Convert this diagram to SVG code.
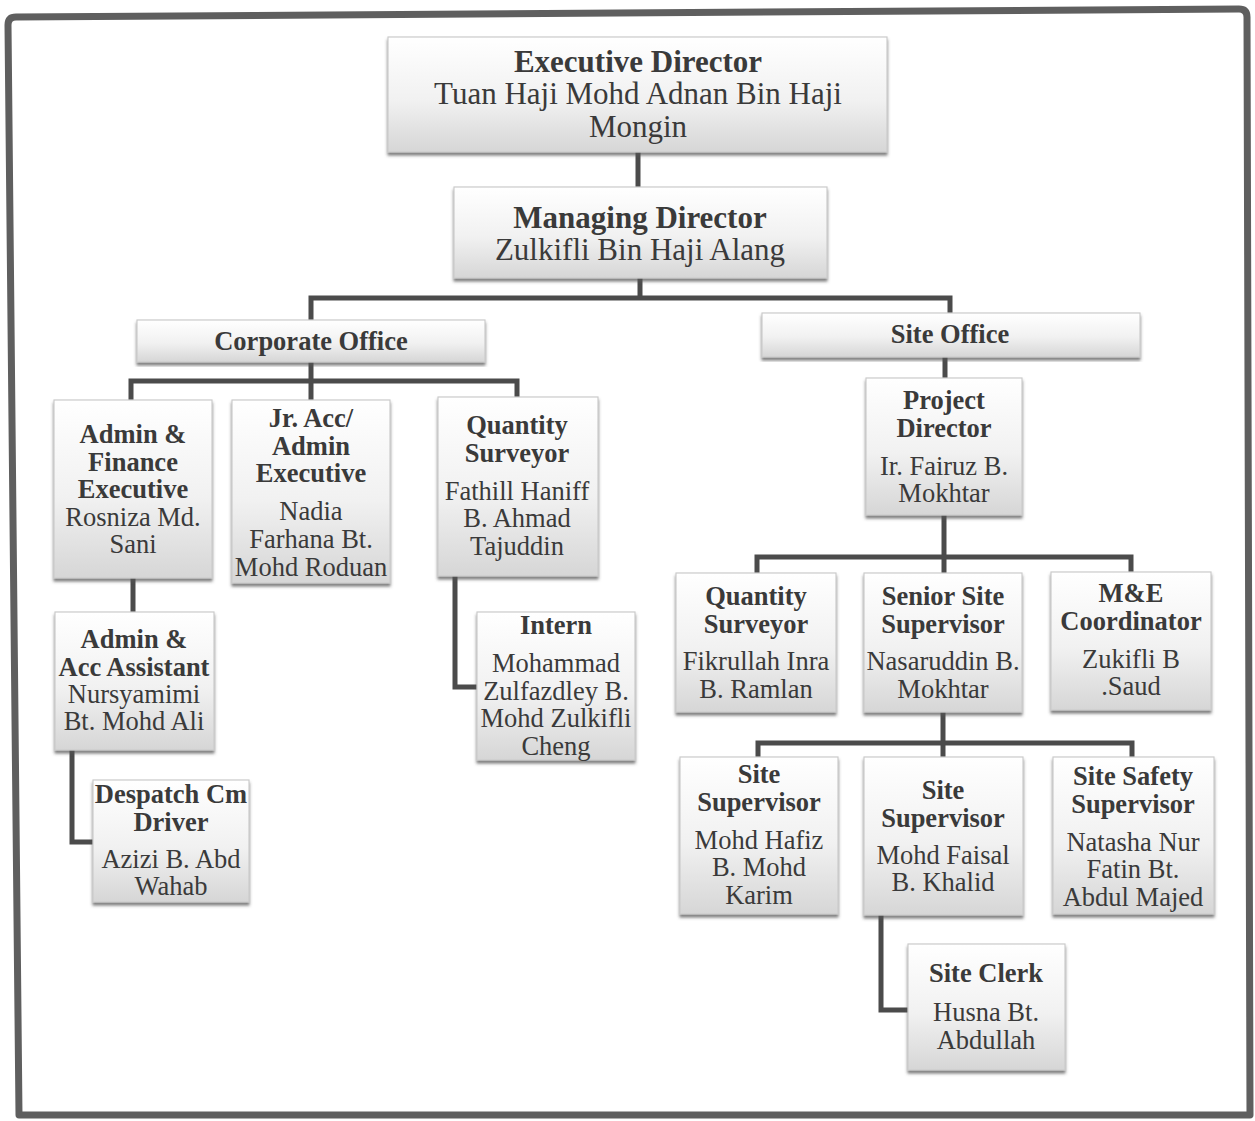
<svg xmlns="http://www.w3.org/2000/svg" width="1255" height="1121" viewBox="0 0 1255 1121">
<defs>
<linearGradient id="g" x1="0" y1="0" x2="0" y2="1">
<stop offset="0" stop-color="#ffffff"/>
<stop offset="0.55" stop-color="#f1f1f1"/>
<stop offset="1" stop-color="#d6d6d6"/>
</linearGradient>
<filter id="sh" x="-5%" y="-5%" width="110%" height="115%">
<feDropShadow dx="0" dy="3" stdDeviation="1.5" flood-color="#555" flood-opacity="0.75"/>
</filter>
</defs>
<style>
.box{fill:url(#g);stroke:#cbcbcb;stroke-width:1.2;filter:url(#sh)}
.c{fill:none;stroke:#4b4b4b;stroke-width:5;stroke-linejoin:miter;stroke-linecap:butt}
text{font-family:"Liberation Serif","Times New Roman",serif;fill:#3a3a3a;text-anchor:middle}
.t1{font-size:31px}
.t2{font-size:26.5px}
.b{font-weight:bold}
.frame{fill:none;stroke:#5f5f5f;stroke-width:7;stroke-linejoin:round}
</style>
<rect width="1255" height="1121" fill="#ffffff"/>
<path class="frame" d="M19,1115 L8,25 Q8,17 16,17 L1239,9 Q1247,9 1247,17 L1250,1115 Z"/>

<g id="connectors">
<path class="c" d="M638,152 V187"/>
<path class="c" d="M640,278 V298"/>
<path class="c" d="M311,320 V298 H950 V313"/>
<path class="c" d="M311,362 V400"/>
<path class="c" d="M131,400 V381 H517 V397"/>
<path class="c" d="M133,578 V612"/>
<path class="c" d="M72,750 V842 H93"/>
<path class="c" d="M455,576 V687 H477"/>
<path class="c" d="M945,357 V378"/>
<path class="c" d="M944,515 V573"/>
<path class="c" d="M757,573 V557 H1131 V572"/>
<path class="c" d="M943,712 V757"/>
<path class="c" d="M758,757 V743 H1132 V757"/>
<path class="c" d="M881,915 V1010 H908"/>
</g>

<g id="executive-director">
<rect class="box" x="388" y="37" width="499" height="115"/>
<text class="t1"><tspan class="b" x="638" y="72">Executive Director</tspan><tspan x="638" y="104">Tuan Haji Mohd Adnan Bin Haji</tspan><tspan x="638" y="137">Mongin</tspan></text>
</g>
<g id="managing-director">
<rect class="box" x="454" y="187" width="373" height="91"/>
<text class="t1"><tspan class="b" x="640" y="228">Managing Director</tspan><tspan x="640" y="260">Zulkifli Bin Haji Alang</tspan></text>
</g>
<g id="corporate-office">
<rect class="box" x="137" y="320" width="348" height="42"/>
<text class="t2 b" x="311" y="350">Corporate Office</text>
</g>
<g id="site-office">
<rect class="box" x="762" y="313" width="378" height="44"/>
<text class="t2 b" x="950" y="343">Site Office</text>
</g>
<g id="admin-finance-executive">
<rect class="box" x="54" y="400" width="158" height="178"/>
<text class="t2"><tspan class="b" x="133" y="443">Admin &amp;</tspan><tspan class="b" x="133" y="471">Finance</tspan><tspan class="b" x="133" y="498">Executive</tspan><tspan x="133" y="526">Rosniza Md.</tspan><tspan x="133" y="553">Sani</tspan></text>
</g>
<g id="jr-acc-admin-executive">
<rect class="box" x="232" y="400" width="158" height="183"/>
<text class="t2"><tspan class="b" x="311" y="427">Jr. Acc/</tspan><tspan class="b" x="311" y="455">Admin</tspan><tspan class="b" x="311" y="482">Executive</tspan><tspan x="311" y="520">Nadia</tspan><tspan x="311" y="548">Farhana Bt.</tspan><tspan x="311" y="576">Mohd Roduan</tspan></text>
</g>
<g id="quantity-surveyor-corporate">
<rect class="box" x="438" y="397" width="160" height="179"/>
<text class="t2"><tspan class="b" x="517" y="434">Quantity</tspan><tspan class="b" x="517" y="462">Surveyor</tspan><tspan x="517" y="500">Fathill Haniff</tspan><tspan x="517" y="527">B. Ahmad</tspan><tspan x="517" y="555">Tajuddin</tspan></text>
</g>
<g id="admin-acc-assistant">
<rect class="box" x="55" y="612" width="159" height="138"/>
<text class="t2"><tspan class="b" x="134" y="648">Admin &amp;</tspan><tspan class="b" x="134" y="676">Acc Assistant</tspan><tspan x="134" y="703">Nursyamimi</tspan><tspan x="134" y="730">Bt. Mohd Ali</tspan></text>
</g>
<g id="despatch-driver">
<rect class="box" x="93" y="780" width="156" height="122"/>
<text class="t2"><tspan class="b" x="171" y="803">Despatch Cm</tspan><tspan class="b" x="171" y="831">Driver</tspan><tspan x="171" y="868">Azizi B. Abd</tspan><tspan x="171" y="895">Wahab</tspan></text>
</g>
<g id="intern">
<rect class="box" x="477" y="612" width="158" height="148"/>
<text class="t2"><tspan class="b" x="556" y="634">Intern</tspan><tspan x="556" y="672">Mohammad</tspan><tspan x="556" y="700">Zulfazdley B.</tspan><tspan x="556" y="727">Mohd Zulkifli</tspan><tspan x="556" y="755">Cheng</tspan></text>
</g>
<g id="project-director">
<rect class="box" x="866" y="378" width="156" height="137"/>
<text class="t2"><tspan class="b" x="944" y="409">Project</tspan><tspan class="b" x="944" y="437">Director</tspan><tspan x="944" y="475">Ir. Fairuz B.</tspan><tspan x="944" y="502">Mokhtar</tspan></text>
</g>
<g id="quantity-surveyor-site">
<rect class="box" x="676" y="573" width="160" height="139"/>
<text class="t2"><tspan class="b" x="756" y="605">Quantity</tspan><tspan class="b" x="756" y="633">Surveyor</tspan><tspan x="756" y="670">Fikrullah Inra</tspan><tspan x="756" y="698">B. Ramlan</tspan></text>
</g>
<g id="senior-site-supervisor">
<rect class="box" x="864" y="573" width="158" height="139"/>
<text class="t2"><tspan class="b" x="943" y="605">Senior Site</tspan><tspan class="b" x="943" y="633">Supervisor</tspan><tspan x="943" y="670">Nasaruddin B.</tspan><tspan x="943" y="698">Mokhtar</tspan></text>
</g>
<g id="me-coordinator">
<rect class="box" x="1051" y="572" width="160" height="138"/>
<text class="t2"><tspan class="b" x="1131" y="602">M&amp;E</tspan><tspan class="b" x="1131" y="630">Coordinator</tspan><tspan x="1131" y="668">Zukifli B</tspan><tspan x="1131" y="695">.Saud</tspan></text>
</g>
<g id="site-supervisor-1">
<rect class="box" x="680" y="757" width="158" height="157"/>
<text class="t2"><tspan class="b" x="759" y="783">Site</tspan><tspan class="b" x="759" y="811">Supervisor</tspan><tspan x="759" y="849">Mohd Hafiz</tspan><tspan x="759" y="876">B. Mohd</tspan><tspan x="759" y="904">Karim</tspan></text>
</g>
<g id="site-supervisor-2">
<rect class="box" x="864" y="757" width="159" height="158"/>
<text class="t2"><tspan class="b" x="943" y="799">Site</tspan><tspan class="b" x="943" y="827">Supervisor</tspan><tspan x="943" y="864">Mohd Faisal</tspan><tspan x="943" y="891">B. Khalid</tspan></text>
</g>
<g id="site-safety-supervisor">
<rect class="box" x="1053" y="757" width="161" height="157"/>
<text class="t2"><tspan class="b" x="1133" y="785">Site Safety</tspan><tspan class="b" x="1133" y="813">Supervisor</tspan><tspan x="1133" y="851">Natasha Nur</tspan><tspan x="1133" y="878">Fatin Bt.</tspan><tspan x="1133" y="906">Abdul Majed</tspan></text>
</g>
<g id="site-clerk">
<rect class="box" x="908" y="944" width="157" height="126"/>
<text class="t2"><tspan class="b" x="986" y="982">Site Clerk</tspan><tspan x="986" y="1021">Husna Bt.</tspan><tspan x="986" y="1049">Abdullah</tspan></text>
</g>
</svg>
